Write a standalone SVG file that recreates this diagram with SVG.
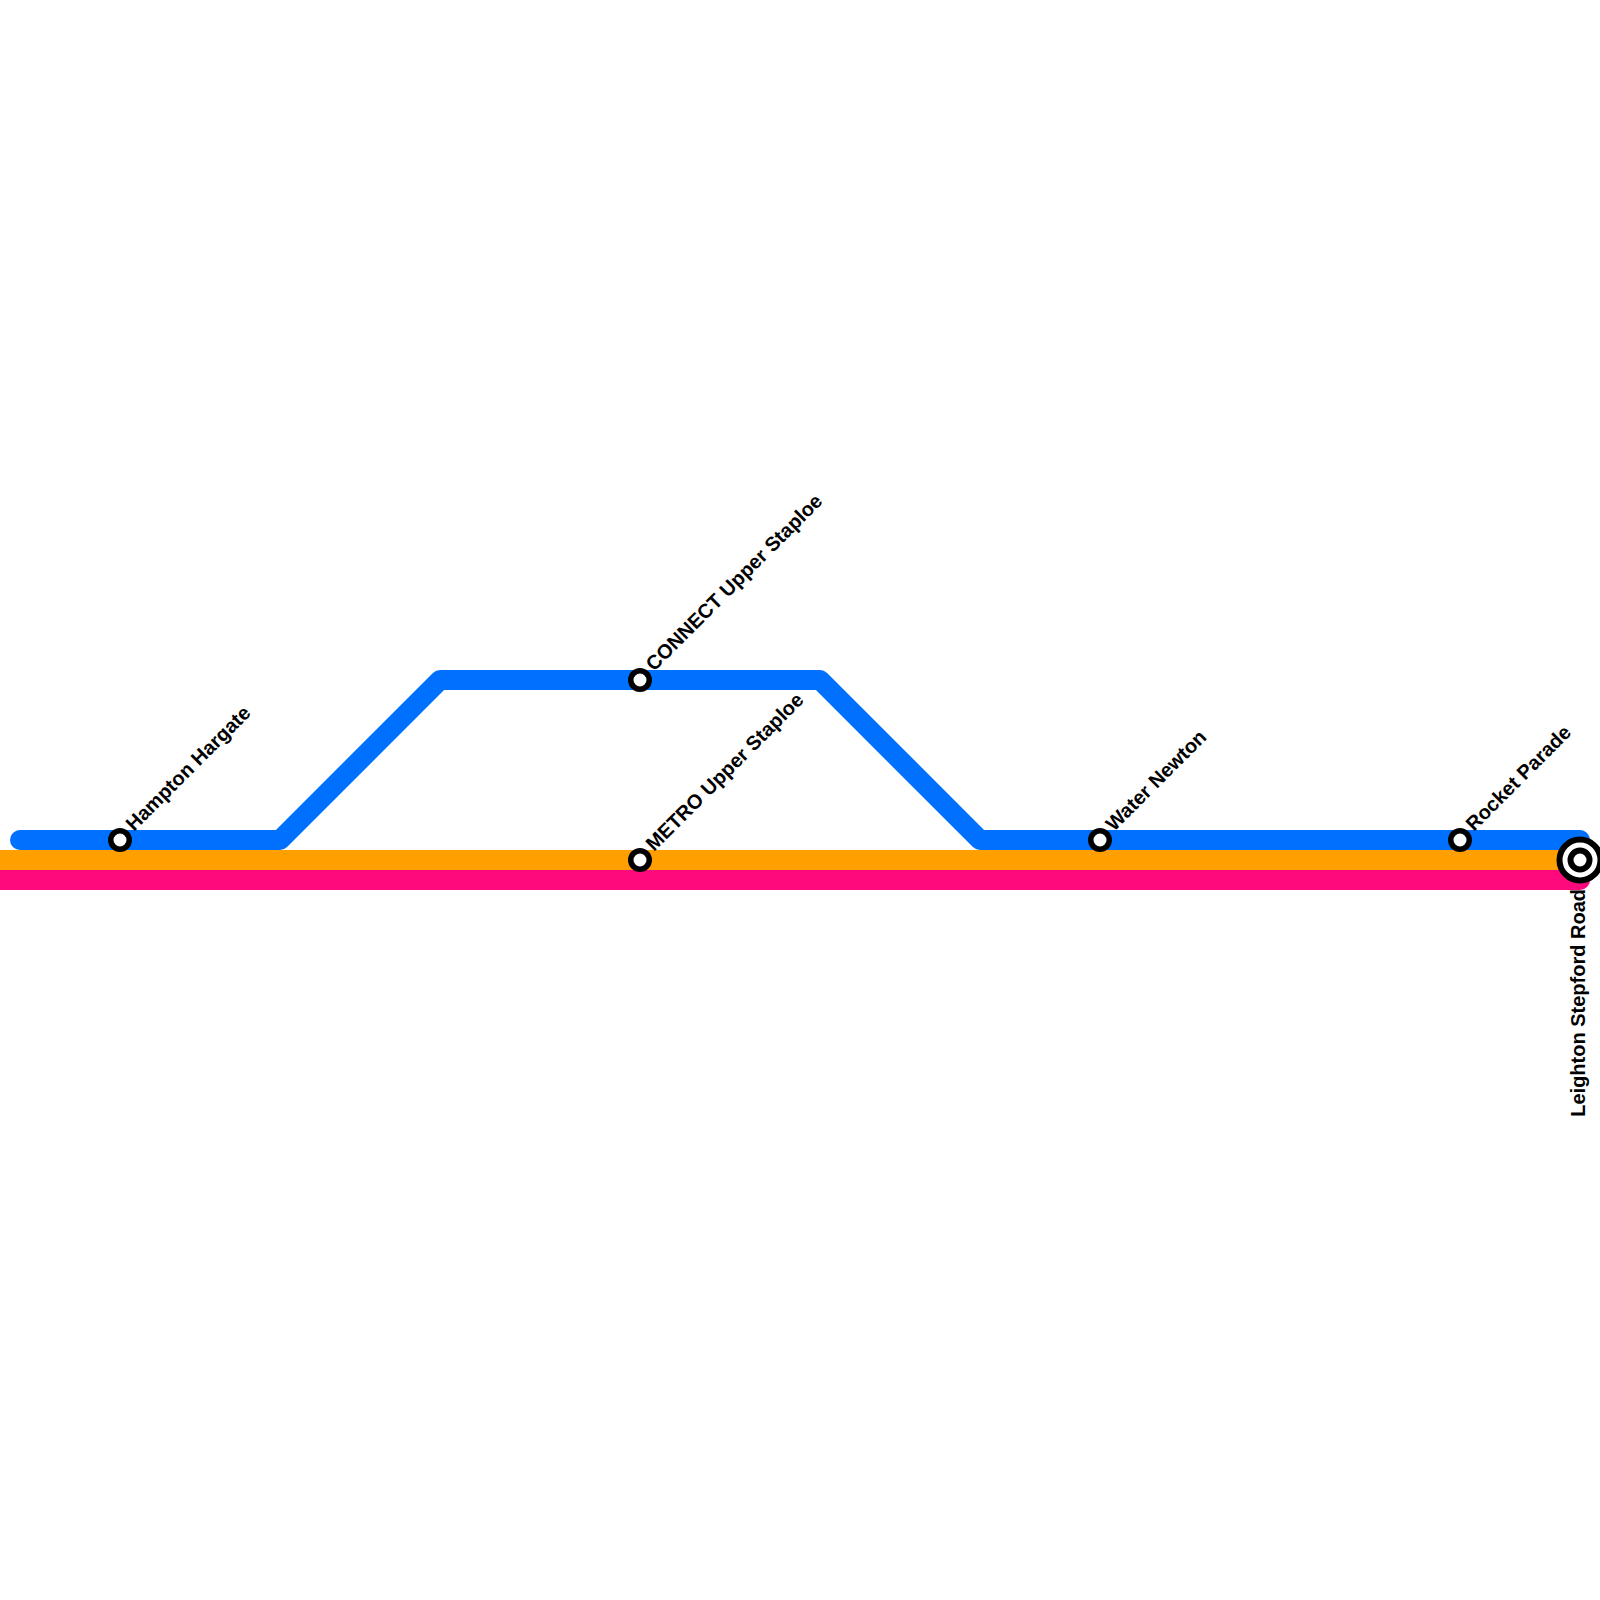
<svg xmlns="http://www.w3.org/2000/svg" width="1600" height="1600" viewBox="0 0 1600 1600">
<style>
.line{fill:none;stroke-width:20;stroke-linecap:round;stroke-linejoin:round}
.st{fill:#fff;stroke:#000;stroke-width:5.5}
.lb{font-family:"Liberation Sans",Arial,sans-serif;font-size:20px;font-weight:700;fill:#000}
</style>
<rect width="1600" height="1600" fill="#fff"/>
<g id="connectors">
<path class="line" stroke="#0070ff" d="M20 840H280L440 680H820L980 840H1580"/>
<path class="line" stroke="#ff9f00" d="M-20 860H1580"/>
<path class="line" stroke="#ff0a7d" d="M-20 880H1580"/>
</g>
<g id="hampton-hargate"><circle class="st" cx="120" cy="840" r="9.25"/><text class="lb" transform="translate(134 832) rotate(-45)">Hampton Hargate</text></g>
<g id="connect-upper-staploe"><circle class="st" cx="640" cy="680" r="9.25"/><text class="lb" transform="translate(654 672) rotate(-45)">CONNECT Upper Staploe</text></g>
<g id="metro-upper-staploe"><circle class="st" cx="640" cy="860" r="9.25"/><text class="lb" transform="translate(654 852) rotate(-45)">METRO Upper Staploe</text></g>
<g id="water-newton"><circle class="st" cx="1100" cy="840" r="9.25"/><text class="lb" transform="translate(1114 832) rotate(-45)">Water Newton</text></g>
<g id="rocket-parade"><circle class="st" cx="1460" cy="840" r="9.25"/><text class="lb" transform="translate(1474 832) rotate(-45)">Rocket Parade</text></g>
<g id="leighton-stepford-road"><circle cx="1580" cy="860" r="20.5" fill="#fff" stroke="#000" stroke-width="6"/><circle cx="1580" cy="860" r="9.5" fill="#fff" stroke="#000" stroke-width="6"/><text class="lb" text-anchor="end" transform="translate(1584.5 889) rotate(-90)">Leighton Stepford Road</text></g>
</svg>
